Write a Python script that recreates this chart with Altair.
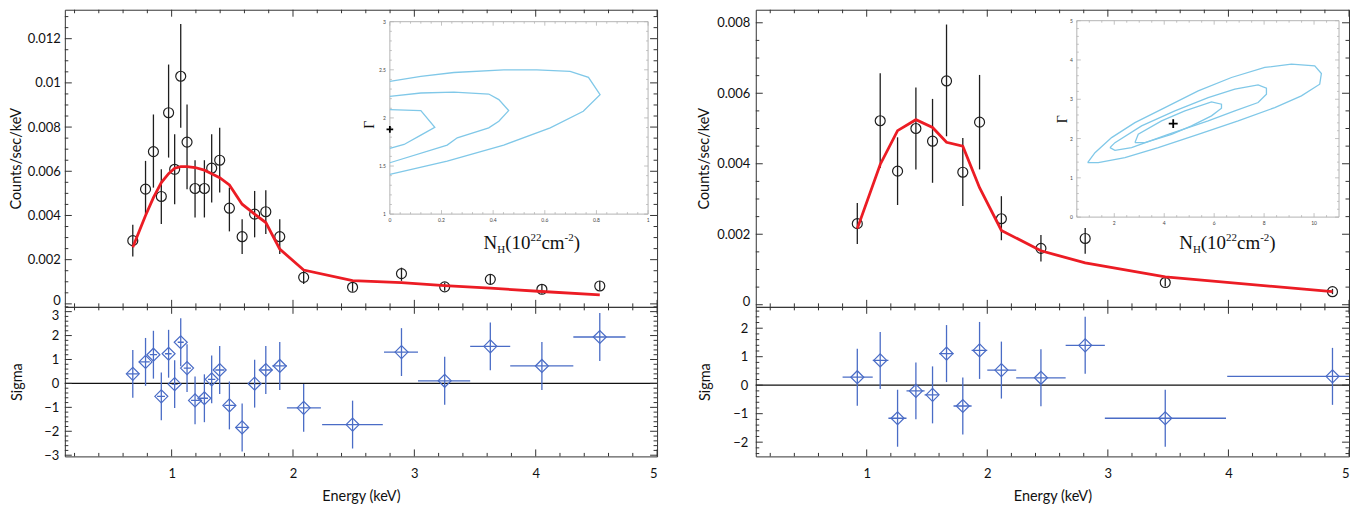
import altair as alt
import pandas as pd
import numpy as np

# ------------------------------------------------------------------ data
# Left spectrum (counts in 1e-3 counts/sec/keV)
L_E = [0.68, 0.785, 0.85, 0.915, 0.975, 1.025, 1.075, 1.127, 1.193, 1.27, 1.33, 1.396,
       1.476, 1.581, 1.684, 1.776, 1.891, 2.088, 2.491, 2.894, 3.25, 3.626, 4.051, 4.528]
L_ELO = [0.63, 0.73, 0.82, 0.88, 0.945, 1.0, 1.05, 1.10, 1.16, 1.23, 1.30, 1.36,
         1.435, 1.53, 1.63, 1.73, 1.83, 1.95, 2.24, 2.75, 3.03, 3.46, 3.79, 4.31]
L_EHI = [0.73, 0.82, 0.88, 0.945, 1.0, 1.05, 1.10, 1.16, 1.23, 1.30, 1.36, 1.435,
         1.53, 1.63, 1.73, 1.83, 1.95, 2.23, 2.74, 3.03, 3.46, 3.79, 4.31, 4.74]
L_C = [2.86, 5.19, 6.89, 4.86, 8.65, 6.09, 10.3, 7.32, 5.22, 5.22, 6.14, 6.5,
       4.33, 3.04, 4.06, 4.17, 3.04, 1.20, 0.75, 1.37, 0.77, 1.11, 0.66, 0.81]
L_CHI = [3.58, 6.47, 8.57, 6.09, 10.83, 7.67, 12.66, 9.02, 6.5, 6.5, 7.67, 7.97,
         5.26, 3.83, 5.11, 5.14, 3.83, 1.55, 0.97, 1.64, 0.96, 1.34, 0.86, 1.04]
L_CLO = [2.14, 4.06, 5.26, 3.61, 6.62, 4.51, 7.97, 5.19, 3.91, 3.91, 4.59, 5.04,
         3.28, 2.26, 3.01, 3.16, 2.26, 0.90, 0.55, 1.04, 0.59, 0.89, 0.46, 0.62]
L_MODEL = [2.56, 4.0, 4.81, 5.49, 5.89, 6.14, 6.21, 6.21, 6.17, 6.05, 5.89, 5.71,
           5.38, 4.51, 4.06, 3.68, 2.48, 1.53, 1.05, 0.96, 0.83, 0.71, 0.56, 0.41]
L_SIG = [0.40, 0.90, 1.2, -0.54, 1.24, -0.03, 1.72, 0.64, -0.71, -0.62, 0.17, 0.56,
         -0.92, -1.84, -0.01, 0.56, 0.73, -1.02, -1.72, 1.31, 0.11, 1.55, 0.73, 1.94]
L_SIGERR = [1.0, 1.0, 1.0, 1.0, 1.0, 1.0, 1.0, 1.0, 1.0, 1.0, 1.0, 1.0,
            1.0, 1.0, 1.0, 1.0, 1.0, 1.0, 1.0, 1.0, 1.0, 1.0, 1.0, 1.0]

# Right spectrum
R_E = [0.922, 1.112, 1.256, 1.408, 1.546, 1.662, 1.797, 1.936, 2.117, 2.445, 2.812, 3.476, 4.863]
R_ELO = [0.80, 1.05, 1.18, 1.33, 1.48, 1.60, 1.72, 1.87, 2.00, 2.24, 2.65, 2.975, 3.99]
R_EHI = [1.05, 1.18, 1.33, 1.48, 1.60, 1.72, 1.87, 2.00, 2.24, 2.65, 2.975, 3.98, 5.6]
R_C = [2.30, 5.22, 3.79, 5.0, 4.64, 6.35, 3.76, 5.18, 2.44, 1.60, 1.88, 0.63, 0.37]
R_CHI = [2.89, 6.57, 4.75, 6.16, 5.84, 7.95, 4.73, 6.52, 3.08, 1.98, 2.18, 0.75, 0.45]
R_CLO = [1.72, 3.88, 2.83, 3.84, 3.46, 4.78, 2.80, 3.84, 1.83, 1.23, 1.45, 0.52, 0.30]
R_MODEL = [2.16, 3.98, 4.94, 5.25, 5.03, 4.61, 4.5, 3.32, 2.11, 1.53, 1.19, 0.79, 0.37]
R_SIG = [0.28, 0.87, -1.16, -0.20, -0.34, 1.11, -0.73, 1.22, 0.53, 0.26, 1.40, -1.16, 0.31]
R_SIGERR = [1.0, 1.0, 1.0, 1.0, 1.0, 1.0, 1.0, 1.0, 1.0, 1.0, 1.0, 1.0, 1.0]

# Left inset contours (N_H, Gamma)
LC1_X = [0, 0.12, 0.248, 0.441, 0.569, 0.698, 0.769, 0.814, 0.749, 0.621, 0.441, 0.222, 0]
LC1_Y = [2.379, 2.431, 2.472, 2.5, 2.5, 2.483, 2.421, 2.241, 2.069, 1.897, 1.717, 1.552, 1.414]
LC2_X = [0, 0.12, 0.248, 0.383, 0.422, 0.46, 0.422, 0.383, 0.261, 0.222, 0]
LC2_Y = [2.224, 2.259, 2.269, 2.248, 2.19, 2.076, 1.966, 1.897, 1.793, 1.717, 1.534]
LC3_X = [0, 0.12, 0.174, 0.12, 0.055, 0]
LC3_Y = [2.086, 2.076, 1.903, 1.821, 1.724, 1.683]
L_BEST = (0.0, 1.88)

# Right inset contours (closed)
RC1_X = [0.933, 1.227, 1.893, 2.827, 4.027, 5.36, 6.693, 8.027, 9.093, 10.027, 10.293, 10.227,
         9.493, 8.427, 6.96, 5.36, 3.76, 2.427, 1.36]
RC1_Y = [1.386, 1.641, 2.024, 2.406, 2.789, 3.214, 3.554, 3.81, 3.895, 3.852, 3.656, 3.384,
         3.087, 2.789, 2.449, 2.109, 1.769, 1.514, 1.386]
RC2_X = [1.827, 2.027, 3.093, 4.427, 5.76, 6.827, 7.76, 8.093, 8.093, 7.76, 6.827, 5.76, 4.16, 2.693, 2.027]
RC2_Y = [1.769, 1.896, 2.321, 2.704, 3.044, 3.257, 3.367, 3.282, 3.129, 2.917, 2.704, 2.449, 2.109, 1.769, 1.701]
RC3_X = [2.827, 2.96, 3.893, 4.827, 5.893, 6.293, 6.293, 5.893, 5.093, 4.293, 3.227]
RC3_Y = [1.896, 2.109, 2.449, 2.704, 2.934, 2.874, 2.772, 2.577, 2.321, 2.109, 1.896]
R_BEST = (4.36, 2.38)

# inset tick labels
LI_XT = [0, 0.2, 0.4, 0.6, 0.8, 1]
LI_XL = ["0", "0.2", "0.4", "0.6", "0.8", "1"]
LI_YT = [1, 1.5, 2, 2.5, 3]
LI_YL = ["1", "1.5", "2", "2.5", "3"]
RI_XT = [2, 4, 6, 8, 10]
RI_XL = ["2", "4", "6", "8", "10"]
RI_YT = [0, 1, 2, 3, 4, 5]
RI_YL = ["0", "1", "2", "3", "4", "5"]

# ------------------------------------------------------------------ style
FRAME = "#333333"
INK = "#1e1e1e"
RED = "#ec1c24"
BLUE = "#4a6cc6"
CONT = "#80c8e8"
IFRAME = "#b4b4b4"
FONT = "Lato"
SERIF = "Liberation Serif"
MAJ, MINL = 7, 3.5
LABF, TITF = 13, 14.5


def tick_layers(values, channel, scale, axis, W, H, length):
    df = pd.DataFrame({"v": values})
    base = alt.Chart(df).mark_rule(color=FRAME, strokeWidth=1)
    out = []
    if channel == "x":
        ex = alt.X("v:Q", scale=scale, axis=axis)
        out.append(base.encode(x=ex, y=alt.value(0), y2=alt.value(length)))
        out.append(base.encode(x=ex, y=alt.value(H), y2=alt.value(H - length)))
    else:
        ey = alt.Y("v:Q", scale=scale, axis=axis)
        out.append(base.encode(y=ey, x=alt.value(0), x2=alt.value(length)))
        out.append(base.encode(y=ey, x=alt.value(W), x2=alt.value(W - length)))
    return out


def within(vals, dom, majors):
    return [round(float(v), 6) for v in vals if dom[0] - 1e-9 <= v <= dom[1] + 1e-9
            and not any(abs(v - m) < 1e-9 for m in majors)]


SEG_W = {"N": .722, "H": .722, "(": .333, ")": .333, "1": .5, "0": .5, "2": .5,
         "c": .444, "m": .778, "-": .333}
SEGS = [("N", False, 0), ("H", True, 4), ("(10", False, 0), ("22", True, -8),
        ("cm", False, 0), ("-2", True, -8), (")", False, 0)]
BIGF, SMALLF = 19, 11


def inset_group(contours, closed, xdom, ydom, xr, yr, best, xt, xl, yt, yl,
                xminor, yminor, gamma_pos, nh_pos, cross_size):
    ixs = alt.Scale(domain=xdom, range=xr, nice=False, zero=False)
    iys = alt.Scale(domain=ydom, range=yr, nice=False, zero=False)
    rows = []
    for ci, (xs_, ys_) in enumerate(contours):
        xx, yy = list(xs_), list(ys_)
        if closed:
            xx.append(xx[0]); yy.append(yy[0])
        for i, (a, b) in enumerate(zip(xx, yy)):
            rows.append({"x": a, "y": b, "c": ci, "i": i})
    cdf = pd.DataFrame(rows)
    X = lambda f: alt.X(f, scale=ixs, axis=None)
    Y = lambda f: alt.Y(f, scale=iys, axis=None)

    # small inward ticks on the inset frame (lengths converted from pixels to data units)
    dxp = (xdom[1] - xdom[0]) / abs(xr[1] - xr[0])
    dyp = (ydom[1] - ydom[0]) / abs(yr[1] - yr[0])
    trows = []
    xmin_vals = within(np.arange(xdom[0], xdom[1], xminor), xdom, xt)
    ymin_vals = within(np.arange(ydom[0], ydom[1], yminor), ydom, yt)
    for vals, L in ((within(xt, xdom, []), 4), (xmin_vals, 2)):
        for v in vals:
            trows.append({"x": v, "x2": v, "y": ydom[0], "y2": ydom[0] + L * dyp})
            trows.append({"x": v, "x2": v, "y": ydom[1], "y2": ydom[1] - L * dyp})
    for vals, L in ((within(yt, ydom, []), 4), (ymin_vals, 2)):
        for v in vals:
            trows.append({"y": v, "y2": v, "x": xdom[0], "x2": xdom[0] + L * dxp})
            trows.append({"y": v, "y2": v, "x": xdom[1], "x2": xdom[1] - L * dxp})
    tdf = pd.DataFrame(trows)

    frame_df = pd.DataFrame({"x0": [xdom[0]], "x1": [xdom[1]], "y0": [ydom[0]], "y1": [ydom[1]]})
    layers = [
        alt.Chart(frame_df).mark_rect(fillOpacity=0, stroke=IFRAME, strokeWidth=1).encode(
            x=X("x0:Q"), x2="x1:Q", y=Y("y0:Q"), y2="y1:Q"),
        alt.Chart(tdf).mark_rule(color=IFRAME, strokeWidth=0.8).encode(
            x=X("x:Q"), x2="x2:Q", y=Y("y:Q"), y2="y2:Q"),
        alt.Chart(cdf).mark_line(color=CONT, strokeWidth=1.3).encode(
            x=X("x:Q"), y=Y("y:Q"), detail="c:N", order="i:Q"),
        alt.Chart(pd.DataFrame({"x": [best[0]], "y": [best[1]]})).mark_point(
            shape="M-1,0L1,0M0,-1L0,1", filled=False, color="#000", strokeWidth=1.8,
            size=cross_size, opacity=1).encode(x=X("x:Q"), y=Y("y:Q")),
        alt.Chart(pd.DataFrame({"x": xt, "t": xl, "y": [ydom[0]] * len(xt)})).mark_text(
            font=FONT, fontSize=5, color="#444", baseline="top", dy=4).encode(
            x=X("x:Q"), y=Y("y:Q"), text="t:N"),
        alt.Chart(pd.DataFrame({"y": yt, "t": yl, "x": [xdom[0]] * len(yt)})).mark_text(
            font=FONT, fontSize=5, color="#444", align="right", dx=-4).encode(
            x=X("x:Q"), y=Y("y:Q"), text="t:N"),
        alt.Chart(pd.DataFrame({"x": [gamma_pos[0]], "y": [gamma_pos[1]]})).mark_text(
            text="Γ", font=SERIF, fontSize=14, angle=270, color="#111").encode(
            x=X("x:Q"), y=Y("y:Q")),
    ]
    nh_df = pd.DataFrame({"x": [nh_pos[0]], "y": [nh_pos[1]]})
    cum = 0.0
    for txt, small, shift in SEGS:
        fs = SMALLF if small else BIGF
        layers.append(alt.Chart(nh_df).mark_text(
            text=txt, font=SERIF, fontSize=fs, align="left", baseline="alphabetic",
            dx=cum, dy=shift, color="#111").encode(x=X("x:Q"), y=Y("y:Q")))
        cum += sum(SEG_W[ch] for ch in txt) * fs
    return alt.layer(*layers)


def panel(E, ELO, EHI, C, CLO, CHI, MODEL, SIG, SIGERR, xdom, ydom, rdom, W, HT, HR,
          yvals, ystep_minor, rvals, pads, inset):
    lp_top, tp_top, lp_res, tp_res = pads
    xs = alt.Scale(domain=xdom, nice=False, zero=False)
    ys = alt.Scale(domain=ydom, nice=False, zero=False)
    rs = alt.Scale(domain=rdom, nice=False, zero=False)
    df = pd.DataFrame({
        "E": E, "elo": ELO, "ehi": EHI,
        "c": np.array(C) * 1e-3, "clo": np.array(CLO) * 1e-3, "chi": np.array(CHI) * 1e-3,
        "m": np.array(MODEL) * 1e-3, "s": SIG,
        "slo": np.array(SIG) - np.array(SIGERR), "shi": np.array(SIG) + np.array(SIGERR)})
    yax = alt.Axis(values=yvals, format="~g", ticks=False, tickSize=0, domain=False, grid=False,
                   labelPadding=lp_top, title="Counts/sec/keV", titlePadding=tp_top,
                   orient="left",
                   labelOffset={"condition": {"test": "datum.value == 0", "value": -3}, "value": 0})
    EX = alt.X("E:Q", scale=xs, axis=None)
    bars = alt.Chart(df).mark_rule(color=INK, strokeWidth=1.3).encode(
        x=EX, y=alt.Y("clo:Q", scale=ys, axis=yax), y2="chi:Q")
    pts = alt.Chart(df).mark_point(shape="circle", filled=False, size=100, color=INK,
                                   strokeWidth=1.2, opacity=1).encode(
        x=EX, y=alt.Y("c:Q", scale=ys, axis=yax))
    line = alt.Chart(df).mark_line(color=RED, strokeWidth=2.8).encode(
        x=EX, y=alt.Y("m:Q", scale=ys, axis=yax))

    xmaj = [1, 2, 3, 4, 5]
    xmin_ = within(np.arange(0.2, 5.0, 0.2), xdom, xmaj)
    ymin_ = within(np.arange(0, ydom[1], ystep_minor), ydom, yvals)
    rmaj = rvals
    rmin_ = within(np.arange(-4, 4, 0.2), rdom, rmaj)

    tl = []
    tl += tick_layers(within(xmaj, xdom, []), "x", xs, None, W, HT, MAJ)
    tl += tick_layers(xmin_, "x", xs, None, W, HT, MINL)
    tl += tick_layers(yvals, "y", ys, yax, W, HT, MAJ)
    tl += tick_layers(ymin_, "y", ys, yax, W, HT, MINL)
    main = alt.layer(bars, pts, line, *tl)
    top = alt.layer(main, inset).resolve_scale(x="independent", y="independent").properties(
        width=W, height=HT)

    top_r = max(rvals)
    xax = alt.Axis(values=xmaj, format="d", ticks=False, tickSize=0, domain=False, grid=False,
                   labelPadding=11, title="Energy (keV)", titlePadding=9, orient="bottom")
    rax = alt.Axis(values=rvals, format="d", ticks=False, tickSize=0, domain=False, grid=False,
                   labelPadding=lp_res, title="Sigma", titlePadding=tp_res, orient="left",
                   labelOffset={"condition": {"test": f"datum.value == {top_r} && {top_r} >= 3",
                                              "value": 4}, "value": 0})
    zero = alt.Chart(pd.DataFrame({"z": [0]})).mark_rule(color="#111", strokeWidth=1.2).encode(
        y=alt.Y("z:Q", scale=rs, axis=rax))
    hbar = alt.Chart(df).mark_rule(color=BLUE, strokeWidth=1.3, clip=True).encode(
        x=alt.X("elo:Q", scale=xs, axis=xax), x2="ehi:Q",
        y=alt.Y("s:Q", scale=rs, axis=rax))
    vbar = alt.Chart(df).mark_rule(color=BLUE, strokeWidth=1.3).encode(
        x=alt.X("E:Q", scale=xs, axis=xax),
        y=alt.Y("slo:Q", scale=rs, axis=rax), y2="shi:Q")
    dia = alt.Chart(df).mark_point(shape="diamond", filled=False, size=170, color=BLUE,
                                   strokeWidth=1.2, opacity=1).encode(
        x=alt.X("E:Q", scale=xs, axis=xax), y=alt.Y("s:Q", scale=rs, axis=rax))
    rl = []
    rl += tick_layers(within(xmaj, xdom, []), "x", xs, xax, W, HR, MAJ)
    rl += tick_layers(xmin_, "x", xs, xax, W, HR, MINL)
    rl += tick_layers(rmaj, "y", rs, rax, W, HR, MAJ)
    rl += tick_layers(rmin_, "y", rs, rax, W, HR, MINL)
    res = alt.layer(hbar, zero, vbar, dia, *rl).properties(width=W, height=HR)
    return alt.vconcat(top, res, spacing=0, bounds="flush")


WL, WR, HT, HR = 594, 595, 298, 150

left_inset = inset_group([(LC1_X, LC1_Y), (LC2_X, LC2_Y), (LC3_X, LC3_Y)], False,
                         [0, 1], [1, 3], [326, 585], [205, 12], L_BEST,
                         LI_XT, LI_XL, LI_YT, LI_YL, 0.04, 0.1,
                         (-0.075, 1.93), (0.363, 0.637), 45)
right_inset = inset_group([(RC1_X, RC1_Y), (RC2_X, RC2_Y), (RC3_X, RC3_Y)], True,
                          [0.5, 11], [0, 5], [322, 585], [208, 11], R_BEST,
                          RI_XT, RI_XL, RI_YT, RI_YL, 0.5, 0.2,
                          (-0.06, 2.49), (4.6, -0.81), 80)

left = panel(L_E, L_ELO, L_EHI, L_C, L_CLO, L_CHI, L_MODEL, L_SIG, L_SIGERR,
             [0.12, 5.0], [-0.000135, 0.01331], [-3.05, 3.2], WL, HT, HR,
             [0, 0.002, 0.004, 0.006, 0.008, 0.01, 0.012], 0.0005, [-3, -2, -1, 0, 1, 2, 3],
             (4.5, 3.5, 6, 19.5), left_inset)
right = panel(R_E, R_ELO, R_EHI, R_C, R_CLO, R_CHI, R_MODEL, R_SIG, R_SIGERR,
              [0.08, 5.0], [-0.00006, 0.00837], [-2.5, 2.75], WR, HT, HR,
              [0, 0.002, 0.004, 0.006, 0.008], 0.0005, [-2, -1, 0, 1, 2],
              (6, 5, 8, 20.5), right_inset)

chart = alt.hconcat(left, right, spacing=37).properties(padding=0).configure_view(
    stroke=FRAME, strokeWidth=1).configure_axis(
    labelFont=FONT, titleFont=FONT, labelFontSize=LABF, titleFontSize=TITF,
    titleFontWeight="normal", labelColor="#111", titleColor="#111")

chart.save("out.html", embed_options={"renderer": "svg", "actions": False})
